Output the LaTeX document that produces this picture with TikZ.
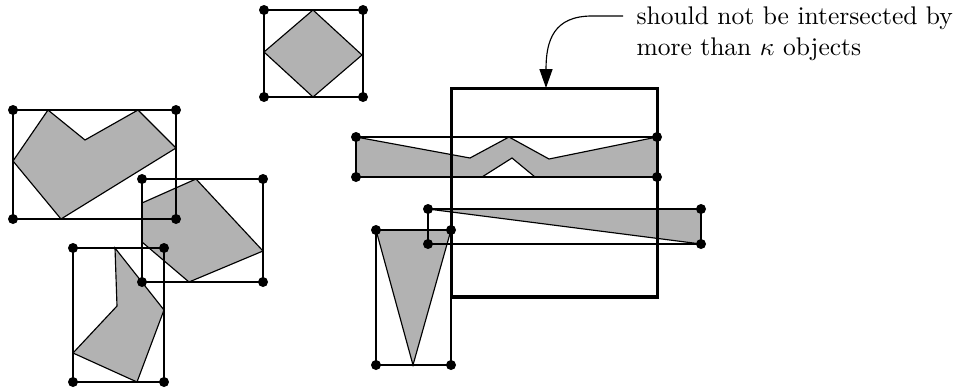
\documentclass[tikz,border=0pt]{standalone}
\usetikzlibrary{arrows.meta, positioning}

\begin{document}
\begin{tikzpicture}[
x=0.392pt, y=-0.392pt,
obj/.style={fill=black!30, draw=black, line width=0.45pt, line join=miter},
bbox/.style={draw=black, line width=0.45pt},
window/.style={rectangle, draw=black, line width=1.2pt, inner sep=0, minimum width=81.1pt, minimum height=81.9pt},
callout/.style={-{Triangle[length=7.4pt, width=5.1pt]}, line width=0.45pt}
]
\useasboundingbox (0,0) rectangle (957,390);

% objects
\draw[obj] (313,10) -- (362,55) -- (313,97) -- (264,52) -- cycle;
\draw[obj] (48,110) -- (85,140) -- (138,110) -- (176,148) -- (61,219) -- (13,161) -- cycle;
\draw[obj] (142,203) -- (196,179) -- (263,251) -- (189,282) -- (142,242) -- cycle;
\draw[obj] (115,248) -- (164,310) -- (137,382) -- (73,353) -- (117,306) -- cycle;
\draw[obj] (356,137) -- (470,158) -- (509,137) -- (549,159) -- (657,137) -- (657,177)
  -- (535,177) -- (512,158) -- (482,177) -- (356,177) -- cycle;
\draw[obj] (428,209) -- (701,209) -- (701,244) -- cycle;
\draw[obj] (376,230) -- (451,230) -- (413,365) -- cycle;

% bounding boxes
\draw[bbox] (264,10) rectangle (363,97);
\draw[bbox] (13,110) rectangle (176,219);
\draw[bbox] (142,179) rectangle (263,282);
\draw[bbox] (73,248) rectangle (164,382);
\draw[bbox] (356,137) rectangle (657,177);
\draw[bbox] (428,209) rectangle (701,244);
\draw[bbox] (376,230) rectangle (451,365);

% query window
\node[window] (range) at (554.5,192.5) {};

% corner dots
\foreach \xa/\ya/\xb/\yb in {264/10/363/97, 13/110/176/219, 142/179/263/282,
  73/248/164/382, 356/137/657/177, 428/209/701/244, 376/230/451/365}
  \foreach \px/\py in {\xa/\ya, \xb/\ya, \xa/\yb, \xb/\yb}
    \fill (\px,\py) circle[radius=5];

% remark
\node[anchor=base west, align=left, inner sep=0] (remark) at (636,55)
  {should not be intersected by\\more than $\kappa$ objects};
\coordinate (start) at (623,16);
\coordinate (tip) at (546,88);
\draw[callout] (start) -- ++(-31,0) .. controls +(-38,0) and +(0,-48) .. (tip);
\end{tikzpicture}
\end{document}
